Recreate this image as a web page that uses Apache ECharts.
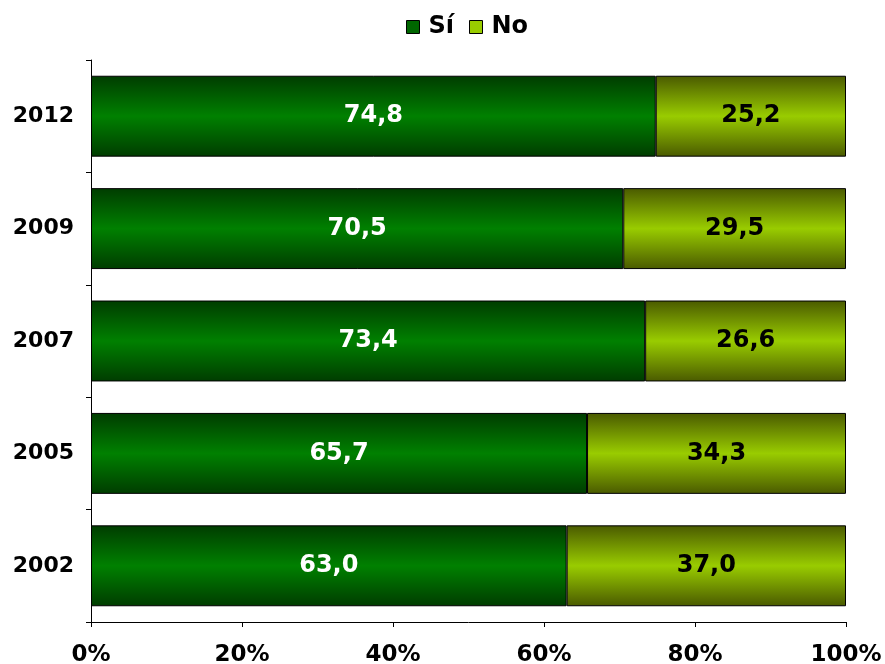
<!DOCTYPE html>
<html><head><meta charset="utf-8">
<script src="https://cdn.jsdelivr.net/npm/echarts@6/dist/echarts.min.js"></script>
<style>html,body{margin:0;padding:0;background:#fff}#c{width:885px;height:664px}</style>
</head><body><div id="c"></div>
<script>
const categories = ['2002','2005','2007','2009','2012'];
const siValues = [63.0, 65.7, 73.4, 70.5, 74.8];
const noValues = [37.0, 34.3, 26.6, 29.5, 25.2];
const xTicks = [0,20,40,60,80,100];
const seriesNames = ['Sí','No'];

const FONT = 'DejaVu Sans';
function grad(edge, mid){
  return new echarts.graphic.LinearGradient(0,0,0,1,[
    {offset:0,color:edge},{offset:0.5,color:mid},{offset:1,color:edge}]);
}
const chart = echarts.init(document.getElementById('c'));
chart.setOption({
  animation:false,
  legend:{top:10,left:401,itemWidth:13,itemHeight:13,itemGap:15,
    textStyle:{fontFamily:FONT,fontWeight:'bold',fontSize:24,color:'#000',padding:[3,0,0,4]},
    data:[{name:seriesNames[0],icon:'rect',itemStyle:{color:'#006600',borderColor:'#000',borderWidth:1}},
          {name:seriesNames[1],icon:'rect',itemStyle:{color:'#99cc00',borderColor:'#000',borderWidth:1}}]},
  grid:{left:91,right:39,top:60,bottom:42,containLabel:false,outerBoundsMode:'none'},
  xAxis:{type:'value',min:0,max:100,interval:20,
    axisLine:{show:true,lineStyle:{color:'#000',width:1}},
    axisTick:{show:true,length:5,lineStyle:{color:'#000'}},
    splitLine:{show:false},
    axisLabel:{formatter:v=>v+'%',fontFamily:FONT,fontWeight:'bold',fontSize:23,color:'#000',margin:22}},
  yAxis:{type:'category',data:categories,
    axisLine:{show:true,lineStyle:{color:'#000',width:1}},
    axisTick:{show:true,length:5,lineStyle:{color:'#000'}},
    axisLabel:{fontFamily:FONT,fontWeight:'bold',fontSize:22,color:'#000',margin:17,padding:[7,0,0,0]}},
  series:[
    {name:seriesNames[0],type:'bar',stack:'t',data:siValues,barCategoryGap:'28%',
     itemStyle:{color:grad('#003c00','#008000'),borderColor:'#000',borderWidth:1},
     label:{show:true,position:'inside',formatter:p=>p.value.toFixed(1).replace('.',','),
       fontFamily:FONT,fontWeight:'bold',fontSize:24,color:'#fff',padding:[7,0,0,0]}},
    {name:seriesNames[1],type:'bar',stack:'t',data:noValues,barCategoryGap:'28%',
     itemStyle:{color:grad('#4a5a00','#99cc00'),borderColor:'#000',borderWidth:1},
     label:{show:true,position:'inside',formatter:p=>p.value.toFixed(1).replace('.',','),
       fontFamily:FONT,fontWeight:'bold',fontSize:24,color:'#000',padding:[7,0,0,0]}}
  ]
});
</script></body></html>
